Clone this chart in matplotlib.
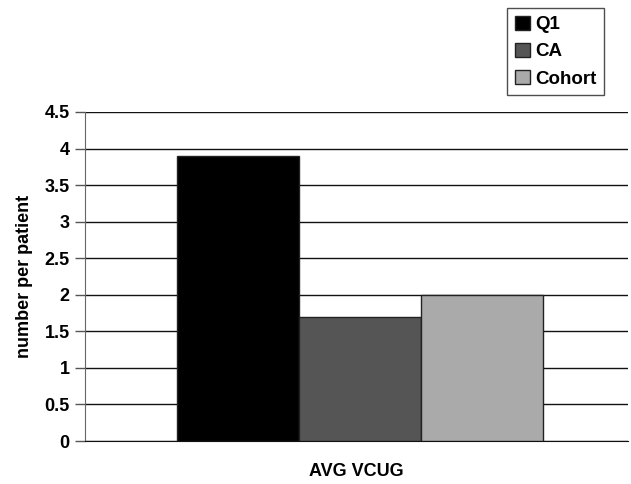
import matplotlib.pyplot as plt

# average VCUG count per patient
groups = ['Q1', 'CA', 'Cohort']
values = [3.9, 1.7, 2.0]
colors = ['#000000', '#555555', '#aaaaaa']
yticks = [0, 0.5, 1, 1.5, 2, 2.5, 3, 3.5, 4, 4.5]

plt.rcParams['font.family'] = ['Liberation Sans', 'DejaVu Sans']
plt.rcParams['font.weight'] = 'bold'

fig = plt.figure(figsize=(6.31, 4.84), dpi=100)
ax = fig.add_axes([0.1347, 0.0888, 0.8603, 0.6798])

bars = []
for i, (g, v, c) in enumerate(zip(groups, values, colors)):
    b = ax.bar(i - 1, v, width=1.0, color=c, edgecolor='#222222', linewidth=1, label=g, zorder=3)
    bars.append(b)

ax.set_xlim(-2.254, 2.197)
ax.set_ylim(0, 4.5)
ax.set_yticks(yticks)
ax.set_yticklabels([f'{t:g}' for t in yticks], fontsize=13, fontweight='bold')
ax.set_xticks([])
ax.yaxis.grid(True, color='#111111', linewidth=1, zorder=0)
ax.tick_params(axis='y', length=7, width=1, color='#555555', pad=4)

for s in ['top', 'right']:
    ax.spines[s].set_visible(False)
ax.spines['left'].set_color('#666666')
ax.spines['bottom'].set_color('#111111')

ax.set_ylabel('number per patient', fontsize=13, fontweight='bold', labelpad=8)
ax.set_xlabel('AVG VCUG', fontsize=13, fontweight='bold', labelpad=16)

fig.legend(loc='upper left', bbox_to_anchor=(0.8035, 0.983),
           prop={'weight': 'bold', 'size': 13.5}, frameon=True, fancybox=False,
           edgecolor='#222222', handlelength=0.8, handleheight=0.8,
           handletextpad=0.3, borderpad=0.4, labelspacing=0.5, borderaxespad=0)

fig.savefig('out.png', dpi=100)
